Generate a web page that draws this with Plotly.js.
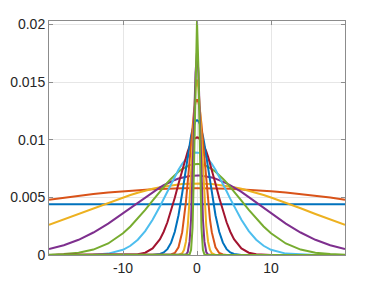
<!DOCTYPE html>
<html>
<head>
<meta charset="utf-8">
<script src="https://cdn.plot.ly/plotly-3.0.1.min.js"></script>
<style>html,body{margin:0;padding:0;background:#fff;}#chart{width:382px;height:286px;}</style>
</head>
<body>
<div id="chart"></div>
<script>
const xVals = [-20,-18,-16,-14,-12,-10,-9,-8,-7,-6,-5,-4.5,-4,-3.5,-3,-2.5,-2,-1.75,-1.5,-1.25,-1,-0.8,-0.6,-0.4,-0.2,0,0.2,0.4,0.6,0.8,1,1.25,1.5,1.75,2,2.5,3,3.5,4,4.5,5,6,7,8,9,10,12,14,16,18,20];

const s1 = [0.0044,0.0044,0.0044,0.0044,0.0044,0.0044,0.0044,0.0044,0.0044,0.0044,0.0044,0.0044,0.0044,0.0044,0.0044,0.0044,0.0044,0.0044,0.0044,0.0044,0.0044,0.0044,0.0044,0.0044,0.0044,0.0044,0.0044,0.0044,0.0044,0.0044,0.0044,0.0044,0.0044,0.0044,0.0044,0.0044,0.0044,0.0044,0.0044,0.0044,0.0044,0.0044,0.0044,0.0044,0.0044,0.0044,0.0044,0.0044,0.0044,0.0044,0.0044];
const s2 = [0.0048,0.00498,0.00514,0.00529,0.00542,0.00553,0.00558,0.00563,0.00567,0.0057,0.00573,0.00575,0.00576,0.00577,0.00578,0.00578,0.00579,0.00579,0.0058,0.0058,0.0058,0.0058,0.0058,0.0058,0.0058,0.0058,0.0058,0.0058,0.0058,0.0058,0.0058,0.0058,0.0058,0.00579,0.00579,0.00578,0.00578,0.00577,0.00576,0.00575,0.00573,0.0057,0.00567,0.00563,0.00558,0.00553,0.00542,0.00529,0.00514,0.00498,0.0048];
const s3 = [0.00261,0.00308,0.00356,0.00406,0.00454,0.00499,0.0052,0.0054,0.00558,0.00574,0.00587,0.00593,0.00599,0.00604,0.00608,0.00612,0.00615,0.00616,0.00617,0.00618,0.00619,0.00619,0.0062,0.0062,0.0062,0.0062,0.0062,0.0062,0.0062,0.00619,0.00619,0.00618,0.00617,0.00616,0.00615,0.00612,0.00608,0.00604,0.00599,0.00593,0.00587,0.00574,0.00558,0.0054,0.0052,0.00499,0.00454,0.00406,0.00356,0.00308,0.00261];
const s4 = [0.00052,0.00085,0.00132,0.00195,0.00272,0.00362,0.00409,0.00457,0.00502,0.00547,0.00587,0.00605,0.00622,0.00638,0.00651,0.00663,0.00672,0.00676,0.0068,0.00683,0.00686,0.00687,0.00688,0.0069,0.0069,0.0069,0.0069,0.0069,0.00688,0.00687,0.00686,0.00683,0.0068,0.00676,0.00672,0.00663,0.00651,0.00638,0.00622,0.00605,0.00587,0.00547,0.00502,0.00457,0.00409,0.00362,0.00272,0.00195,0.00132,0.00085,0.00052];
const s5 = [0.00003,0.00008,0.0002,0.00047,0.001,0.00188,0.00247,0.00315,0.00391,0.00471,0.00552,0.00591,0.00628,0.00662,0.00694,0.00722,0.00746,0.00756,0.00765,0.00772,0.00779,0.00783,0.00786,0.00788,0.0079,0.0079,0.0079,0.00788,0.00786,0.00783,0.00779,0.00772,0.00765,0.00756,0.00746,0.00722,0.00694,0.00662,0.00628,0.00591,0.00552,0.00471,0.00391,0.00315,0.00247,0.00188,0.001,0.00047,0.0002,0.00008,0.00003];
const s6 = [0,0,0,0.00003,0.00012,0.00045,0.0008,0.00133,0.00207,0.00305,0.00423,0.00487,0.00553,0.00618,0.00681,0.00739,0.0079,0.00812,0.00832,0.0085,0.00864,0.00873,0.00881,0.00886,0.00889,0.0089,0.00889,0.00886,0.00881,0.00873,0.00864,0.0085,0.00832,0.00812,0.0079,0.00739,0.00681,0.00618,0.00553,0.00487,0.00423,0.00305,0.00207,0.00133,0.0008,0.00045,0.00012,0.00003,0,0,0];
const s7 = [0,0,0,0,0,0,0.00002,0.00006,0.0002,0.00057,0.00138,0.00202,0.00284,0.00383,0.00496,0.00619,0.00741,0.00798,0.00852,0.009,0.00942,0.00969,0.00991,0.01007,0.01017,0.0102,0.01017,0.01007,0.00991,0.00969,0.00942,0.009,0.00852,0.00798,0.00741,0.00619,0.00496,0.00383,0.00284,0.00202,0.00138,0.00057,0.0002,0.00006,0.00002,0,0,0,0,0,0];
const s8 = [0,0,0,0,0,0,0,0,0,0.00001,0.00009,0.00022,0.00051,0.00107,0.00202,0.00345,0.00536,0.00643,0.00754,0.00862,0.00962,0.01033,0.01091,0.01134,0.01161,0.0117,0.01161,0.01134,0.01091,0.01033,0.00962,0.00862,0.00754,0.00643,0.00536,0.00345,0.00202,0.00107,0.00051,0.00022,0.00009,0.00001,0,0,0,0,0,0,0,0,0];
const s9 = [0,0,0,0,0,0,0,0,0,0,0,0,0,0.00004,0.00018,0.00067,0.00198,0.0031,0.00458,0.00637,0.00835,0.00993,0.01135,0.0125,0.01324,0.0135,0.01324,0.0125,0.01135,0.00993,0.00835,0.00637,0.00458,0.0031,0.00198,0.00067,0.00018,0.00004,0,0,0,0,0,0,0,0,0,0,0,0,0];
const s10 = [0,0,0,0,0,0,0,0,0,0,0,0,0,0,0,0.00001,0.00015,0.00045,0.00115,0.00253,0.00482,0.0073,0.01006,0.01265,0.01452,0.0152,0.01452,0.01265,0.01006,0.0073,0.00482,0.00253,0.00115,0.00045,0.00015,0.00001,0,0,0,0,0,0,0,0,0,0,0,0,0,0,0];
const s11 = [0,0,0,0,0,0,0,0,0,0,0,0,0,0,0,0,0,0,0.00004,0.00026,0.00118,0.00312,0.00665,0.01142,0.01579,0.0176,0.01579,0.01142,0.00665,0.00312,0.00118,0.00026,0.00004,0,0,0,0,0,0,0,0,0,0,0,0,0,0,0,0,0,0];
const s12 = [0,0,0,0,0,0,0,0,0,0,0,0,0,0,0,0,0,0,0,0,0.00005,0.00045,0.00239,0.00784,0.016,0.0203,0.016,0.00784,0.00239,0.00045,0.00005,0,0,0,0,0,0,0,0,0,0,0,0,0,0,0,0,0,0,0,0];

const series = [s1,s2,s3,s4,s5,s6,s7,s8,s9,s10,s11,s12];
const colors = ['#0072BD','#D95319','#EDB120','#7E2F8E','#77AC30','#4DBEEE','#A2142F'];

const xTickVals = [-10,0,10];
const xTickText = ['-10','0','10'];
const yTickVals = [0,0.005,0.01,0.015,0.02];
const yTickText = ['0','0.005','0.01','0.015','0.02'];

const traces = series.map((ys,i) => ({
  x: xVals, y: ys, type: 'scatter', mode: 'lines',
  line: {color: colors[i % colors.length], width: 2},
  hoverinfo: 'skip', showlegend: false
}));

const axisCommon = {
  showline: true, linecolor: '#8c8c8c', linewidth: 1, mirror: 'ticks',
  ticks: 'inside', ticklen: 4, tickcolor: '#8c8c8c', tickwidth: 1,
  showgrid: true, gridcolor: '#e6e6e6', gridwidth: 1, zeroline: false,
  tickfont: {family: 'Liberation Sans, Arial, sans-serif', size: 14, color: '#262626'}
};

const layout = {
  width: 382, height: 286,
  margin: {l: 49, r: 37, t: 21, b: 31, pad: 0},
  paper_bgcolor: '#ffffff', plot_bgcolor: '#ffffff',
  showlegend: false,
  xaxis: Object.assign({}, axisCommon, {range: [-20, 20], tickmode: 'array', tickvals: xTickVals, ticktext: xTickText}),
  yaxis: Object.assign({}, axisCommon, {range: [0, 0.0203], tickmode: 'array', tickvals: yTickVals, ticktext: yTickText})
};

Plotly.newPlot('chart', traces, layout, {displayModeBar: false, staticPlot: true});
</script>
</body>
</html>
